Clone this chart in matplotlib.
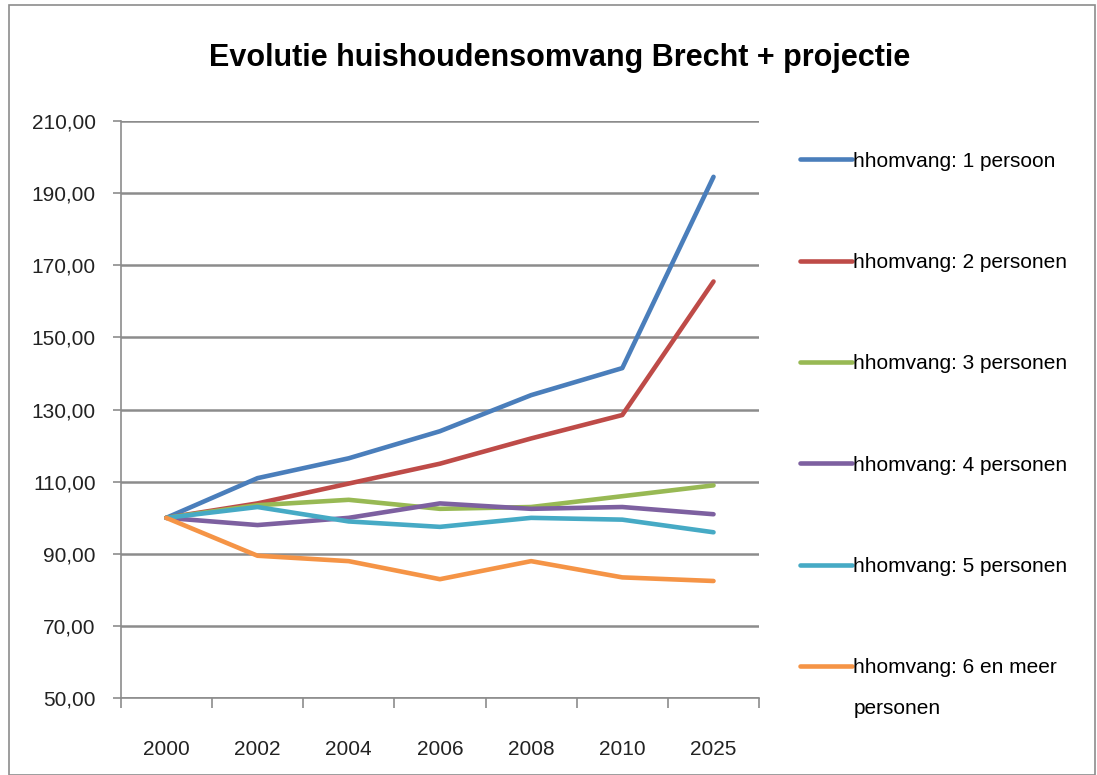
import matplotlib.pyplot as plt
import numpy as np
from matplotlib.patches import Rectangle
from matplotlib.ticker import FuncFormatter

title = "Evolutie huishoudensomvang Brecht + projectie"

years = ["2000", "2002", "2004", "2006", "2008", "2010", "2025"]
labels = [
    "hhomvang: 1 persoon",
    "hhomvang: 2 personen",
    "hhomvang: 3 personen",
    "hhomvang: 4 personen",
    "hhomvang: 5 personen",
    "hhomvang: 6 en meer",
]
extra_line = "personen"
p1 = [100, 111, 116.5, 124, 134, 141.5, 194.5]
p2 = [100, 104, 109.5, 115, 122, 128.5, 165.5]
p3 = [100, 103.5, 105, 102.5, 103, 106, 109]
p4 = [100, 98, 100, 104, 102.5, 103, 101]
p5 = [100, 103, 99, 97.5, 100, 99.5, 96]
p6 = [100, 89.5, 88, 83, 88, 83.5, 82.5]
colors = ["#4A7EBB", "#BE4B48", "#98B954", "#7D60A0", "#46AAC5", "#F59446"]

plt.rcParams["font.family"] = ["Liberation Sans", "DejaVu Sans"]

fig = plt.figure(figsize=(10.97, 7.75), dpi=100)
ax = fig.add_axes([0.110, 0.099, 0.582, 0.745])

x = np.arange(len(years))
for vals, lab, c in zip([p1, p2, p3, p4, p5, p6], labels, colors):
    ax.plot(x, vals, color=c, lw=3.3, label=lab, solid_capstyle="round")

ax.set_xlim(-0.5, len(years) - 0.5)
ax.set_ylim(50, 210)
ax.set_yticks(np.arange(50, 211, 20))
ax.yaxis.set_major_formatter(FuncFormatter(lambda v, _: f"{v:.2f}".replace(".", ",")))
ax.set_xticks(x)
ax.set_xticklabels(years)
ax.set_xticks(np.arange(-0.5, len(years), 1), minor=True)
ax.tick_params(axis="x", which="major", length=0, pad=30, labelsize=15, colors="#222222")
ax.tick_params(axis="x", which="minor", length=7, color="#8c8c8c", width=1.2)
ax.tick_params(axis="y", length=6, color="#8c8c8c", width=1.2, pad=12, labelsize=15, colors="#222222")
ax.grid(axis="y", color="#8c8c8c", lw=1.8)
ax.set_axisbelow(True)
for s in ["top", "right"]:
    ax.spines[s].set_visible(False)
for s in ["left", "bottom"]:
    ax.spines[s].set_color("#8c8c8c")
    ax.spines[s].set_linewidth(1.2)

fig.text(0.51, 0.925, title, ha="center", va="center", fontsize=22, fontweight="bold")

leg = fig.legend(loc="upper left", bbox_to_anchor=(0.722, 0.815), frameon=False,
                 fontsize=15, handlelength=2.5, handletextpad=0.05, labelspacing=3.95,
                 borderaxespad=0)

# second line of the last legend label, placed under its first line
fig.canvas.draw()
last = leg.get_texts()[-1]
bb = last.get_window_extent().transformed(fig.transFigure.inverted())
fig.text(bb.x0, bb.y0 - 0.028, extra_line, ha="left", va="top", fontsize=15)

fig.patches.append(Rectangle((0.008, 0.0), 0.99, 0.993, transform=fig.transFigure,
                             fill=False, edgecolor="#8c8c8c", lw=1.2))

plt.savefig("out.png", dpi=100)
